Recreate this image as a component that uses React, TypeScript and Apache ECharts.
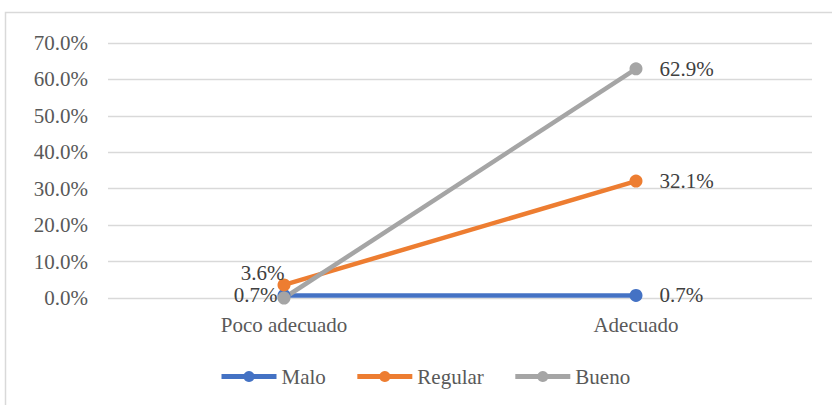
import React, { useEffect, useRef } from "react";
import * as echarts from "echarts";

const categories = ["Poco adecuado", "Adecuado"];
const malo = [0.7, 0.7];
const regular = [3.6, 32.1];
const bueno = [0.0, 62.9];
const yTicks = { min: 0, max: 70, interval: 10 };

const FONT = "Times New Roman, Liberation Serif, serif";
const FS = 21;

export default function App() {
  const ref = useRef<HTMLDivElement>(null);
  useEffect(() => {
    document.body.style.margin = "0";
    const chart = echarts.init(ref.current!, null, { renderer: "svg" });
    const fmt = (p: any) => p.value.toFixed(1) + "%";
    const mk = (name: string, data: number[], color: string, leftLabel: any) => ({
      name,
      type: "line",
      data: data.map((v, i) =>
        i === 0
          ? { value: v, label: leftLabel }
          : { value: v, label: { show: true, position: "right", distance: 17 } }
      ),
      symbol: "circle",
      symbolSize: 13,
      itemStyle: { color },
      lineStyle: { color, width: 4.5 },
      label: {
        show: true,
        formatter: fmt,
        fontFamily: FONT,
        fontSize: FS,
        color: "#404040",
      },
    });
    chart.setOption({
      animation: false,
      textStyle: { fontFamily: FONT },
      graphic: [
        {
          type: "rect",
          shape: { x: 5.5, y: 12.5, width: 900, height: 500 },
          style: { fill: "none", stroke: "#d9d9d9", lineWidth: 1.5 },
          silent: true,
        },
      ],
      grid: { left: 108, right: 20, top: 43, bottom: 107, containLabel: false },
      xAxis: {
        type: "category",
        data: categories,
        axisLine: { show: false },
        axisTick: { show: false },
        axisLabel: { fontFamily: FONT, fontSize: FS, color: "#595959", margin: 16 },
      },
      yAxis: {
        type: "value",
        min: yTicks.min,
        max: yTicks.max,
        interval: yTicks.interval,
        axisLine: { show: false },
        axisTick: { show: false },
        splitLine: { lineStyle: { color: "#d9d9d9", width: 1.3 } },
        axisLabel: {
          fontFamily: FONT,
          fontSize: FS,
          color: "#595959",
          margin: 20,
          formatter: (v: number) => v.toFixed(1) + "%",
        },
      },
      legend: {
        bottom: 13,
        left: 214,
        itemWidth: 55,
        itemHeight: 14,
        itemGap: 29,
        lineStyle: { width: 5 },
        textStyle: { fontFamily: FONT, fontSize: FS, color: "#595959" },
        data: ["Malo", "Regular", "Bueno"],
      },
      series: [
        mk("Malo", malo, "#4472c4", { show: true, position: "left", distance: 0 }),
        mk("Regular", regular, "#ed7d31", { show: true, position: "left", distance: 0, offset: [7, -12] }),
        mk("Bueno", bueno, "#a5a5a5", { show: false }),
      ],
    });
    return () => chart.dispose();
  }, []);
  return (
    <div
      ref={ref}
      style={{ position: "fixed", left: 0, top: 0, width: 832, height: 405, background: "#fff" }}
    />
  );
}
